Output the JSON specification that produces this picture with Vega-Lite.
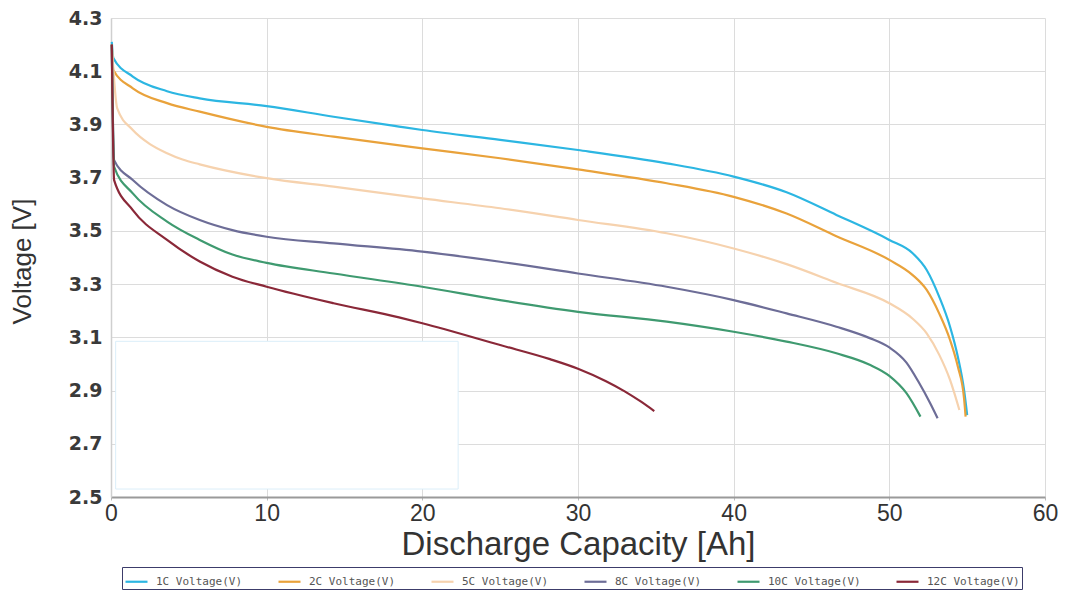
{
  "$schema": "https://vega.github.io/schema/vega-lite/v6.json",
  "width": 934,
  "height": 479,
  "autosize": "none",
  "padding": {"left": 111, "top": 18, "right": 25, "bottom": 98},
  "background": "white",
  "config": {
    "view": {"stroke": null},
    "font": "Liberation Sans",
    "axis": {"gridColor": "#dcdcdc", "gridWidth": 1, "tickColor": "#bbbbbb", "tickSize": 3}
  },
  "datasets": {
    "curves": [
      {"series": "1C Voltage(V)", "cap": 0.05, "v": 4.21},
      {"series": "1C Voltage(V)", "cap": 0.15, "v": 4.15},
      {"series": "1C Voltage(V)", "cap": 1.4, "v": 4.08},
      {"series": "1C Voltage(V)", "cap": 3.6, "v": 4.025},
      {"series": "1C Voltage(V)", "cap": 5.7, "v": 3.998},
      {"series": "1C Voltage(V)", "cap": 10, "v": 3.969},
      {"series": "1C Voltage(V)", "cap": 14.3, "v": 3.929},
      {"series": "1C Voltage(V)", "cap": 18.5, "v": 3.892},
      {"series": "1C Voltage(V)", "cap": 20, "v": 3.879},
      {"series": "1C Voltage(V)", "cap": 25, "v": 3.842},
      {"series": "1C Voltage(V)", "cap": 30, "v": 3.804},
      {"series": "1C Voltage(V)", "cap": 35.7, "v": 3.754},
      {"series": "1C Voltage(V)", "cap": 40, "v": 3.704},
      {"series": "1C Voltage(V)", "cap": 43.4, "v": 3.645},
      {"series": "1C Voltage(V)", "cap": 46.6, "v": 3.56},
      {"series": "1C Voltage(V)", "cap": 50, "v": 3.466},
      {"series": "1C Voltage(V)", "cap": 51.5, "v": 3.416},
      {"series": "1C Voltage(V)", "cap": 52.4, "v": 3.353},
      {"series": "1C Voltage(V)", "cap": 53.2, "v": 3.253},
      {"series": "1C Voltage(V)", "cap": 53.9, "v": 3.14},
      {"series": "1C Voltage(V)", "cap": 54.4, "v": 3.027},
      {"series": "1C Voltage(V)", "cap": 54.8, "v": 2.902},
      {"series": "1C Voltage(V)", "cap": 55.0, "v": 2.808},

      {"series": "2C Voltage(V)", "cap": 0.05, "v": 4.2},
      {"series": "2C Voltage(V)", "cap": 0.15, "v": 4.105},
      {"series": "2C Voltage(V)", "cap": 1.4, "v": 4.036},
      {"series": "2C Voltage(V)", "cap": 3.6, "v": 3.98},
      {"series": "2C Voltage(V)", "cap": 5.7, "v": 3.948},
      {"series": "2C Voltage(V)", "cap": 10, "v": 3.891},
      {"series": "2C Voltage(V)", "cap": 14.3, "v": 3.854},
      {"series": "2C Voltage(V)", "cap": 20, "v": 3.81},
      {"series": "2C Voltage(V)", "cap": 25, "v": 3.773},
      {"series": "2C Voltage(V)", "cap": 30, "v": 3.731},
      {"series": "2C Voltage(V)", "cap": 35.7, "v": 3.679},
      {"series": "2C Voltage(V)", "cap": 40, "v": 3.628},
      {"series": "2C Voltage(V)", "cap": 43.4, "v": 3.565},
      {"series": "2C Voltage(V)", "cap": 46.6, "v": 3.48},
      {"series": "2C Voltage(V)", "cap": 50, "v": 3.391},
      {"series": "2C Voltage(V)", "cap": 51.5, "v": 3.334},
      {"series": "2C Voltage(V)", "cap": 52.4, "v": 3.278},
      {"series": "2C Voltage(V)", "cap": 53.2, "v": 3.19},
      {"series": "2C Voltage(V)", "cap": 53.9, "v": 3.09},
      {"series": "2C Voltage(V)", "cap": 54.4, "v": 2.99},
      {"series": "2C Voltage(V)", "cap": 54.8, "v": 2.871},
      {"series": "2C Voltage(V)", "cap": 54.9, "v": 2.802},

      {"series": "5C Voltage(V)", "cap": 0.05, "v": 4.2},
      {"series": "5C Voltage(V)", "cap": 0.4, "v": 3.96},
      {"series": "5C Voltage(V)", "cap": 1.4, "v": 3.879},
      {"series": "5C Voltage(V)", "cap": 2.5, "v": 3.826},
      {"series": "5C Voltage(V)", "cap": 3.6, "v": 3.792},
      {"series": "5C Voltage(V)", "cap": 4.6, "v": 3.768},
      {"series": "5C Voltage(V)", "cap": 5.7, "v": 3.75},
      {"series": "5C Voltage(V)", "cap": 10, "v": 3.698},
      {"series": "5C Voltage(V)", "cap": 14.3, "v": 3.666},
      {"series": "5C Voltage(V)", "cap": 20, "v": 3.622},
      {"series": "5C Voltage(V)", "cap": 25, "v": 3.585},
      {"series": "5C Voltage(V)", "cap": 30, "v": 3.541},
      {"series": "5C Voltage(V)", "cap": 35.7, "v": 3.491},
      {"series": "5C Voltage(V)", "cap": 40, "v": 3.434},
      {"series": "5C Voltage(V)", "cap": 43.4, "v": 3.375},
      {"series": "5C Voltage(V)", "cap": 46.6, "v": 3.305},
      {"series": "5C Voltage(V)", "cap": 50, "v": 3.228},
      {"series": "5C Voltage(V)", "cap": 51.5, "v": 3.17},
      {"series": "5C Voltage(V)", "cap": 52.4, "v": 3.115},
      {"series": "5C Voltage(V)", "cap": 53.2, "v": 3.035},
      {"series": "5C Voltage(V)", "cap": 53.9, "v": 2.94},
      {"series": "5C Voltage(V)", "cap": 54.5, "v": 2.827},

      {"series": "8C Voltage(V)", "cap": 0.05, "v": 4.2},
      {"series": "8C Voltage(V)", "cap": 0.2, "v": 3.766},
      {"series": "8C Voltage(V)", "cap": 1.4, "v": 3.691},
      {"series": "8C Voltage(V)", "cap": 3.6, "v": 3.597},
      {"series": "8C Voltage(V)", "cap": 5.7, "v": 3.541},
      {"series": "8C Voltage(V)", "cap": 7.8, "v": 3.503},
      {"series": "8C Voltage(V)", "cap": 10, "v": 3.478},
      {"series": "8C Voltage(V)", "cap": 14.3, "v": 3.453},
      {"series": "8C Voltage(V)", "cap": 20, "v": 3.422},
      {"series": "8C Voltage(V)", "cap": 25, "v": 3.384},
      {"series": "8C Voltage(V)", "cap": 30, "v": 3.34},
      {"series": "8C Voltage(V)", "cap": 35.7, "v": 3.29},
      {"series": "8C Voltage(V)", "cap": 40, "v": 3.24},
      {"series": "8C Voltage(V)", "cap": 43.4, "v": 3.19},
      {"series": "8C Voltage(V)", "cap": 46.6, "v": 3.14},
      {"series": "8C Voltage(V)", "cap": 48.7, "v": 3.098},
      {"series": "8C Voltage(V)", "cap": 50, "v": 3.062},
      {"series": "8C Voltage(V)", "cap": 51.1, "v": 3.005},
      {"series": "8C Voltage(V)", "cap": 51.9, "v": 2.93},
      {"series": "8C Voltage(V)", "cap": 52.6, "v": 2.855},
      {"series": "8C Voltage(V)", "cap": 53.1, "v": 2.796},

      {"series": "10C Voltage(V)", "cap": 0.05, "v": 4.2},
      {"series": "10C Voltage(V)", "cap": 0.2, "v": 3.741},
      {"series": "10C Voltage(V)", "cap": 1.4, "v": 3.641},
      {"series": "10C Voltage(V)", "cap": 3.6, "v": 3.535},
      {"series": "10C Voltage(V)", "cap": 5.7, "v": 3.466},
      {"series": "10C Voltage(V)", "cap": 7.8, "v": 3.411},
      {"series": "10C Voltage(V)", "cap": 10, "v": 3.38},
      {"series": "10C Voltage(V)", "cap": 14.3, "v": 3.34},
      {"series": "10C Voltage(V)", "cap": 20, "v": 3.29},
      {"series": "10C Voltage(V)", "cap": 25, "v": 3.24},
      {"series": "10C Voltage(V)", "cap": 30, "v": 3.196},
      {"series": "10C Voltage(V)", "cap": 35.7, "v": 3.159},
      {"series": "10C Voltage(V)", "cap": 40, "v": 3.121},
      {"series": "10C Voltage(V)", "cap": 43.4, "v": 3.084},
      {"series": "10C Voltage(V)", "cap": 46.6, "v": 3.04},
      {"series": "10C Voltage(V)", "cap": 48.7, "v": 2.998},
      {"series": "10C Voltage(V)", "cap": 50, "v": 2.955},
      {"series": "10C Voltage(V)", "cap": 51.1, "v": 2.89},
      {"series": "10C Voltage(V)", "cap": 52.0, "v": 2.802},

      {"series": "12C Voltage(V)", "cap": 0.05, "v": 4.2},
      {"series": "12C Voltage(V)", "cap": 0.2, "v": 3.691},
      {"series": "12C Voltage(V)", "cap": 1.4, "v": 3.578},
      {"series": "12C Voltage(V)", "cap": 3.6, "v": 3.466},
      {"series": "12C Voltage(V)", "cap": 5.7, "v": 3.385},
      {"series": "12C Voltage(V)", "cap": 7.8, "v": 3.328},
      {"series": "12C Voltage(V)", "cap": 10, "v": 3.29},
      {"series": "12C Voltage(V)", "cap": 14.3, "v": 3.228},
      {"series": "12C Voltage(V)", "cap": 18.5, "v": 3.175},
      {"series": "12C Voltage(V)", "cap": 20, "v": 3.153},
      {"series": "12C Voltage(V)", "cap": 25, "v": 3.071},
      {"series": "12C Voltage(V)", "cap": 28.2, "v": 3.018},
      {"series": "12C Voltage(V)", "cap": 30, "v": 2.982},
      {"series": "12C Voltage(V)", "cap": 31.8, "v": 2.935},
      {"series": "12C Voltage(V)", "cap": 33, "v": 2.897},
      {"series": "12C Voltage(V)", "cap": 34, "v": 2.86},
      {"series": "12C Voltage(V)", "cap": 34.9, "v": 2.823}
    ],
    "blank": [
      {"c0": 0.3, "c1": 22.3, "v0": 2.53, "v1": 3.085}
    ]
  },
  "layer": [
    {
      "data": {"name": "blank"},
      "mark": {"type": "rect", "fill": "white", "stroke": "#dbeef9", "strokeWidth": 1},
      "encoding": {
        "x": {"field": "c0", "type": "quantitative", "scale": {"domain": [0, 60]}},
        "x2": {"field": "c1"},
        "y": {"field": "v0", "type": "quantitative", "scale": {"domain": [2.5, 4.3]}},
        "y2": {"field": "v1"}
      }
    },
    {
      "data": {"name": "curves"},
      "mark": {"type": "line", "strokeWidth": 2.2, "interpolate": "monotone"},
      "encoding": {
        "x": {
          "field": "cap",
          "type": "quantitative",
          "scale": {"domain": [0, 60], "nice": false},
          "axis": {
            "title": "Discharge Capacity [Ah]",
            "values": [0, 10, 20, 30, 40, 50, 60],
            "titleFont": "Liberation Sans",
            "titleFontSize": 33,
            "titleFontWeight": "normal",
            "titleColor": "#333333",
            "titleY": 31,
            "labelFont": "Liberation Sans",
            "labelFontSize": 23,
            "labelColor": "#333333",
            "labelPadding": 2,
            "labelFlush": false,
            "domainColor": "#9a9a9a",
            "domainWidth": 2
          }
        },
        "y": {
          "field": "v",
          "type": "quantitative",
          "scale": {"domain": [2.5, 4.3], "nice": false, "zero": false},
          "axis": {
            "title": "Voltage [V]",
            "values": [2.5, 2.7, 2.9, 3.1, 3.3, 3.5, 3.7, 3.9, 4.1, 4.3],
            "format": ".1f",
            "titleFont": "Liberation Sans",
            "titleFontSize": 26,
            "titleFontWeight": "normal",
            "titleColor": "#333333",
            "titleX": -76,
            "titleY": 243,
            "labelFont": "DejaVu Sans",
            "labelFontWeight": "bold",
            "labelFontSize": 19,
            "labelColor": "#3a3a3a",
            "labelPadding": 9,
            "labelFlush": false,
            "ticks": false,
            "domainColor": "#cfcfcf",
            "domainWidth": 1.5
          }
        },
        "color": {
          "field": "series",
          "type": "nominal",
          "scale": {
            "domain": ["1C Voltage(V)", "2C Voltage(V)", "5C Voltage(V)", "8C Voltage(V)", "10C Voltage(V)", "12C Voltage(V)"],
            "range": ["#2cb6e2", "#e9a23b", "#f6d2ae", "#6d6d97", "#3f9a70", "#8a2838"]
          },
          "legend": {
            "title": null,
            "orient": "none",
            "legendX": 11,
            "legendY": 549,
            "direction": "horizontal",
            "symbolType": "stroke",
            "symbolSize": 484,
            "symbolStrokeWidth": 2.2,
            "labelFont": "DejaVu Sans Mono",
            "labelFontSize": 11,
            "labelColor": "#555555",
            "labelOffset": 7,
            "columnPadding": 31,
            "padding": 2,
            "strokeColor": "#3c3c6a",
            "fillColor": "white"
          }
        }
      }
    }
  ]
}
